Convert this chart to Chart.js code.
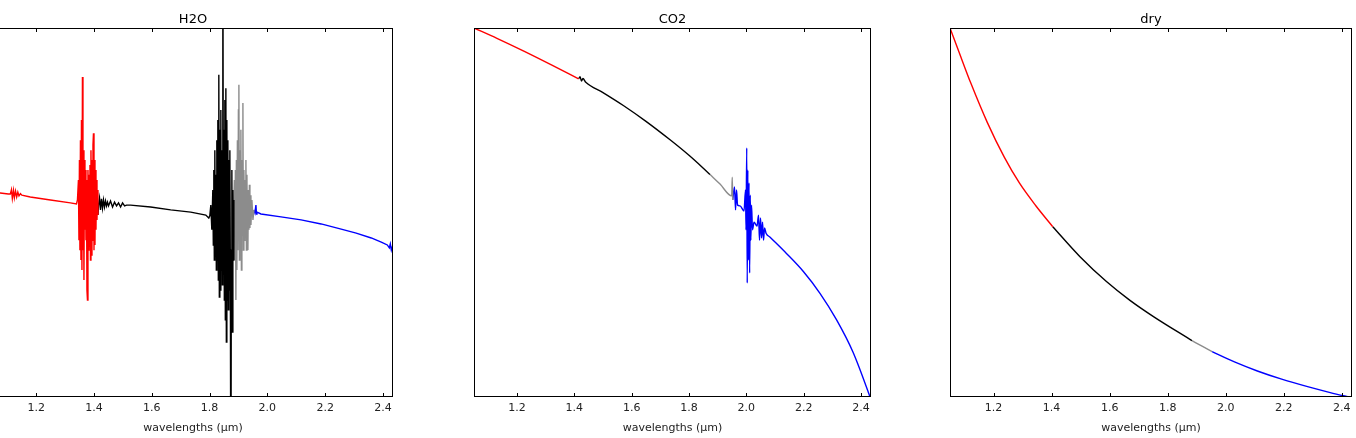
<!DOCTYPE html>
<html>
<head>
<meta charset="utf-8">
<script src="https://cdn.jsdelivr.net/npm/chart.js@4.4.1/dist/chart.umd.min.js"></script>
<style>
  html, body { margin: 0; padding: 0; background: #fff; }
  body { width: 1356px; height: 438px; position: relative; overflow: hidden; }
  canvas { position: absolute; top: 0; }
</style>
</head>
<body>
<canvas id="c-h2o" width="440" height="438" style="left:-27px"></canvas>
<canvas id="c-co2" width="437" height="438" style="left:454px"></canvas>
<canvas id="c-dry" width="442" height="438" style="left:930px"></canvas>
<script>
// ── data: wavelength (um) vs normalised flux ──
const X_MIN = 1.05, X_MAX = 2.435;
const wlTicks = [1.2, 1.4, 1.6, 1.8, 2.0, 2.2, 2.4];
const panelTitles = ['H2O', 'CO2', 'dry'];
const axisLabel = 'wavelengths (μm)';

const h2oRed = [
  [1.047,0.556],[1.075,0.553],[1.103,0.550],[1.110,0.550],[1.114,0.562],[1.117,0.538],[1.121,0.560],[1.124,0.540],
  [1.128,0.558],[1.132,0.542],[1.136,0.555],[1.140,0.545],[1.145,0.551],[1.150,0.547],[1.179,0.542],[1.249,0.534],
  [1.318,0.526],[1.339,0.523],
  [1.3424,0.534],[1.3458,0.588],[1.3476,0.425],[1.3493,0.642],[1.3510,0.398],[1.3528,0.696],[1.3545,0.371],[1.3563,0.751],
  [1.3580,0.344],[1.3597,0.867],[1.3615,0.398],[1.3632,0.669],[1.3649,0.317],[1.3667,0.642],[1.3684,0.453],[1.3701,0.615],
  [1.3719,0.425],[1.3736,0.588],[1.3753,0.290],[1.3771,0.263],[1.3788,0.615],[1.3806,0.398],[1.3823,0.602],[1.3840,0.453],
  [1.3858,0.629],[1.3875,0.371],[1.3892,0.669],[1.3910,0.385],[1.3927,0.642],[1.3944,0.425],[1.3962,0.683],[1.3979,0.715],
  [1.3997,0.398],[1.4014,0.642],[1.4031,0.412],[1.4049,0.615],[1.4066,0.453],[1.4083,0.588],[1.4101,0.480],[1.4118,0.561],
  [1.4135,0.493]
];
const h2oBlack = [
  [1.4135,0.493],[1.4153,0.520],[1.4188,0.539],[1.4222,0.507],[1.4257,0.537],[1.4292,0.512],[1.4326,0.534],[1.4361,0.515],
  [1.4396,0.531],[1.4431,0.518],[1.4465,0.528],[1.4500,0.518],[1.4569,0.531],[1.4639,0.515],[1.4708,0.528],[1.4778,0.518],
  [1.4847,0.526],[1.4917,0.515],[1.4986,0.526],[1.5056,0.518],[1.5125,0.520],[1.5264,0.520],[1.5958,0.515],[1.6653,0.507],
  [1.7347,0.501],[1.7868,0.493],[1.7972,0.485],[1.8007,0.491],
  [1.8042,0.520],[1.8076,0.453],[1.8111,0.561],[1.8128,0.412],[1.8146,0.615],[1.8163,0.371],[1.8181,0.669],[1.8198,0.398],
  [1.8215,0.602],[1.8233,0.344],[1.8250,0.696],[1.8267,0.371],[1.8285,0.751],[1.8302,0.317],[1.8319,0.873],[1.8337,0.271],
  [1.8354,0.724],[1.8372,0.290],[1.8389,0.778],[1.8406,0.344],[1.8424,0.669],[1.8441,0.304],[1.8458,1.400],[1.8476,0.371],
  [1.8493,0.724],[1.8510,0.263],[1.8528,0.805],[1.8545,0.209],[1.8563,0.837],[1.8580,0.149],[1.8597,0.751],[1.8615,0.263],
  [1.8632,0.696],[1.8649,0.236],[1.8667,0.642],[1.8684,0.290],[1.8701,0.669],[1.8719,0.317],[1.8736,-0.400],[1.8753,0.398],
  [1.8771,0.615],[1.8788,0.176],[1.8806,0.561],[1.8823,0.371],[1.8840,0.534]
];
const h2oGray = [
  [1.8840,0.534],[1.8858,0.588],[1.8875,0.371],[1.8892,0.615],[1.8910,0.263],[1.8927,0.642],[1.8944,0.344],[1.8962,0.696],
  [1.8979,0.398],[1.8997,0.778],[1.9014,0.846],[1.9031,0.371],[1.9049,0.669],[1.9066,0.425],[1.9083,0.724],[1.9101,0.344],
  [1.9118,0.642],[1.9135,0.439],[1.9153,0.797],[1.9170,0.398],[1.9188,0.615],[1.9205,0.425],[1.9222,0.588],[1.9240,0.453],
  [1.9257,0.642],[1.9274,0.398],[1.9292,0.602],[1.9309,0.439],[1.9326,0.398],[1.9344,0.561],[1.9361,0.453],[1.9378,0.575],
  [1.9396,0.458],[1.9413,0.547],[1.9431,0.466],[1.9465,0.534],[1.9500,0.480],[1.9535,0.507]
];
const h2oBlue = [
  [1.9535,0.507],[1.9569,0.499],[1.9604,0.520],[1.9622,0.496],[1.9639,0.501],[1.9778,0.496],[2.0472,0.488],[2.1167,0.480],
  [2.1861,0.469],[2.2556,0.455],[2.3076,0.444],[2.3597,0.431],[2.3944,0.420],[2.4153,0.412],[2.4222,0.404],[2.4257,0.415],
  [2.4292,0.398],[2.4326,0.407],[2.4361,0.390],[2.4396,0.398],[2.4465,0.393]
];

const co2Red = [[1.050,1.000],[1.130,0.972],[1.222,0.938],[1.320,0.900],[1.415,0.862]];
const co2Black = [
  [1.415,0.862],[1.420,0.868],[1.425,0.856],[1.430,0.863],[1.440,0.853],[1.500,0.825],[1.571,0.790],[1.650,0.747],
  [1.734,0.697],[1.800,0.655],[1.850,0.620],[1.8734,0.603]
];
const co2Gray = [[1.8734,0.603],[1.9083,0.577],[1.9491,0.545],[1.9509,0.596],[1.9526,0.534]];
const co2Blue = [
  [1.9526,0.534],[1.9589,0.569],[1.9624,0.507],[1.9659,0.561],[1.9694,0.520],[1.9781,0.518],[1.9920,0.504],[1.9973,0.561],
  [1.9990,0.453],[2.0015,0.675],[2.0032,0.309],[2.0053,0.615],[2.0070,0.371],[2.0095,0.580],[2.0116,0.336],[2.0137,0.547],
  [2.0158,0.425],[2.0182,0.520],[2.0217,0.453],[2.0269,0.474],[2.0374,0.463],[2.0426,0.493],[2.0461,0.425],[2.0496,0.485],
  [2.0531,0.431],[2.0566,0.474],[2.0601,0.425],[2.0636,0.458],[2.0688,0.444],[2.083,0.433],[2.140,0.389],[2.199,0.340],
  [2.257,0.281],[2.315,0.209],[2.372,0.122],[2.426,0.012],[2.440,-0.020]
];

const dryRed = [[1.050,1.000],[1.081,0.935],[1.122,0.850],[1.178,0.745],[1.237,0.650],[1.289,0.580],[1.345,0.519],[1.404,0.4615]];
const dryBlack = [[1.404,0.4615],[1.497,0.381],[1.589,0.313],[1.670,0.262],[1.751,0.218],[1.8835,0.153]];
const dryGray = [[1.8835,0.153],[1.920,0.137],[1.953,0.123]];
const dryBlue = [[1.953,0.123],[2.030,0.095],[2.109,0.0705],[2.190,0.049],[2.282,0.028],[2.360,0.012],[2.435,-0.002]];

const RED = '#ff0000', BLACK = '#000000', GRAY = '#8c8c8c', BLUE = '#0000ff';

Chart.defaults.font.family = '"DejaVu Sans", sans-serif';

// ── box frame with inward ticks top and bottom (matplotlib classic look) ──
const framePlugin = {
  id: 'frame',
  afterDatasetsDraw(chart) {
    const { ctx, chartArea: a, scales: { x } } = chart;
    ctx.save();
    ctx.strokeStyle = '#000';
    ctx.lineWidth = 1;
    ctx.strokeRect(a.left + 0.5, a.top + 0.5, a.width - 1, a.height - 1);
    ctx.beginPath();
    x.ticks.forEach((t, i) => {
      const px = Math.round(x.getPixelForTick(i)) + 0.5;
      ctx.moveTo(px, a.bottom); ctx.lineTo(px, a.bottom - 4);
      ctx.moveTo(px, a.top); ctx.lineTo(px, a.top + 4);
    });
    ctx.stroke();
    ctx.restore();
  }
};

function makePanel(id, title, segments, smooth) {
  return new Chart(document.getElementById(id), {
    type: 'line',
    data: {
      datasets: segments.map(([pts, color]) => ({
        data: pts.map(([x, y]) => ({ x, y })),
        borderColor: color,
        borderWidth: 1.4,
        pointRadius: 0,
        tension: 0,
        cubicInterpolationMode: smooth ? 'monotone' : 'default',
      }))
    },
    options: {
      responsive: false,
      animation: false,
      events: [],
      layout: { padding: { left: 20, right: 20, top: 0, bottom: 0 } },
      plugins: {
        legend: { display: false },
        tooltip: { enabled: false },
        title: {
          display: true, text: title, color: '#000',
          font: { size: 13, weight: 'normal' },
          padding: { top: 12, bottom: 0.4 }
        }
      },
      scales: {
        x: {
          type: 'linear', min: X_MIN, max: X_MAX,
          afterBuildTicks: s => { s.ticks = wlTicks.map(v => ({ value: v })); },
          afterFit: s => { s.height = 41; },
          grid: { display: false, drawTicks: false },
          border: { display: false },
          ticks: { callback: v => v.toFixed(1), color: '#222', font: { size: 11 }, padding: 5, maxRotation: 0, autoSkip: false },
          title: { display: true, text: axisLabel, color: '#222', font: { size: 11 }, padding: { top: 0, bottom: 3 } }
        },
        y: { display: false, min: 0, max: 1 }
      }
    },
    plugins: [framePlugin]
  });
}

makePanel('c-h2o', panelTitles[0], [[h2oRed, RED], [h2oBlack, BLACK], [h2oGray, GRAY], [h2oBlue, BLUE]], false);
makePanel('c-co2', panelTitles[1], [[co2Red, RED], [co2Black, BLACK], [co2Gray, GRAY], [co2Blue, BLUE]], true);
makePanel('c-dry', panelTitles[2], [[dryRed, RED], [dryBlack, BLACK], [dryGray, GRAY], [dryBlue, BLUE]], true);
</script>
</body>
</html>
